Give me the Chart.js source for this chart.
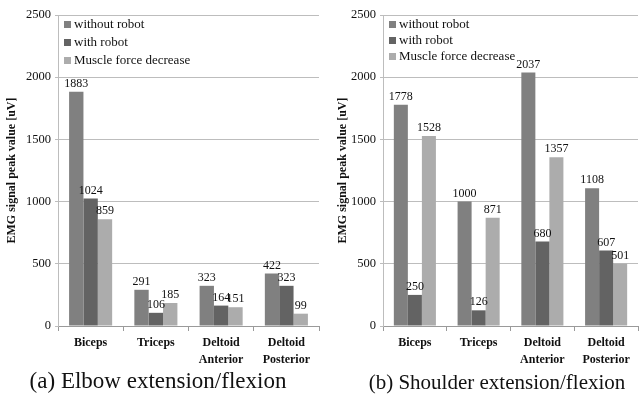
<!DOCTYPE html>
<html>
<head>
<meta charset="utf-8">
<script src="https://cdn.jsdelivr.net/npm/chart.js@4/dist/chart.umd.min.js"></script>
<style>
  body { margin: 0; background: #fff; }
  #wrap { position: relative; width: 639px; height: 398px; overflow: hidden; }
  canvas { position: absolute; top: 0; }
  .cap {
    position: absolute; top: 370px;
    font-family: "Liberation Serif", "Times New Roman", serif;
    font-size: 21px; color: #111;
    white-space: nowrap; transform: translateX(-50%);
  }
</style>
</head>
<body>
<div id="wrap">
  <canvas id="elbow" width="320" height="372" style="left:0"></canvas>
  <canvas id="shoulder" width="319" height="372" style="left:320px"></canvas>
  <div class="cap" style="left:158px; top:368px; font-size:23px">(a) Elbow extension/flexion</div>
  <div class="cap" style="left:497px">(b) Shoulder extension/flexion</div>
</div>
<script>
const categories = [["Biceps"], ["Triceps"], ["Deltoid", "Anterior"], ["Deltoid", "Posterior"]];
const seriesNames = ["without robot", "with robot", "Muscle force decrease"];
const seriesColors = ["#808080", "#636363", "#acacac"];

const elbowWithout = [1883, 291, 323, 422];
const elbowWith = [1024, 106, 164, 323];
const elbowDecrease = [859, 185, 151, 99];

const shoulderWithout = [1778, 1000, 2037, 1108];
const shoulderWith = [250, 126, 680, 607];
const shoulderDecrease = [1528, 871, 1357, 501];

const yMax = 2500;
const yStep = 500;
const yTitle = "EMG signal peak value [uV]";

const serif = "'Liberation Serif', 'Times New Roman', serif";

// value labels above each bar + legend inside the plot
const barExtras = {
  id: "barExtras",
  afterDatasetsDraw(chart, args, opts) {
    const ctx = chart.ctx;
    ctx.save();
    ctx.fillStyle = "#111";
    ctx.font = "12px " + serif;
    ctx.textAlign = "center";
    ctx.textBaseline = "bottom";
    chart.data.datasets.forEach((ds, i) => {
      chart.getDatasetMeta(i).data.forEach((bar, j) => {
        ctx.fillText(ds.data[j], bar.x, bar.y - 2);
      });
    });
    // legend
    const a = chart.chartArea;
    ctx.textAlign = "left";
    ctx.textBaseline = "middle";
    ctx.font = "13px " + serif;
    chart.data.datasets.forEach((ds, i) => {
      const y = a.top + opts.rowTop + i * opts.rowGap;
      ctx.fillStyle = ds.backgroundColor;
      ctx.fillRect(a.left + 6, y - 4, 7, 7);
      ctx.fillStyle = "#111";
      ctx.fillText(ds.label, a.left + 16, y);
    });
    ctx.restore();
  }
};

function makeChart(id, values, axisWidth, padLeft, rowGap) {
  const datasets = values.map((v, i) => ({
    label: seriesNames[i],
    data: v,
    backgroundColor: seriesColors[i],
    borderWidth: 0,
    barPercentage: 1,
    categoryPercentage: 0.66
  }));
  return new Chart(document.getElementById(id), {
    type: "bar",
    data: { labels: categories, datasets },
    plugins: [barExtras],
    options: {
      responsive: false,
      animation: false,
      layout: { padding: { left: padLeft, right: 1, top: 15, bottom: 0 } },
      plugins: {
        legend: { display: false },
        tooltip: { enabled: false },
        barExtras: { rowTop: 10, rowGap: rowGap }
      },
      scales: {
        x: {
          grid: { drawOnChartArea: false, offset: true, tickLength: 5, color: "#9a9a9a" },
          border: { color: "#9a9a9a" },
          ticks: { color: "#111", font: { family: serif, size: 12, weight: "bold", lineHeight: 1.4 }, padding: 4, maxRotation: 0 },
          afterFit(scale) { scale.height = 46; }
        },
        y: {
          min: 0,
          max: yMax,
          ticks: { stepSize: yStep, color: "#111", font: { family: serif, size: 12.5 }, padding: 4, callback: (v) => String(v) },
          grid: { color: "#bdbdbd", lineWidth: 1, tickLength: 3 },
          border: { color: "#bdbdbd" },
          title: { display: true, text: yTitle, color: "#111", font: { family: serif, size: 12, weight: "bold" }, padding: { top: 5, bottom: 0 } },
          afterFit(scale) { scale.width = axisWidth; }
        }
      }
    }
  });
}

makeChart("elbow", [elbowWithout, elbowWith, elbowDecrease], 58, 0, 18);
makeChart("shoulder", [shoulderWithout, shoulderWith, shoulderDecrease], 52, 11, 16);
</script>
</body>
</html>
